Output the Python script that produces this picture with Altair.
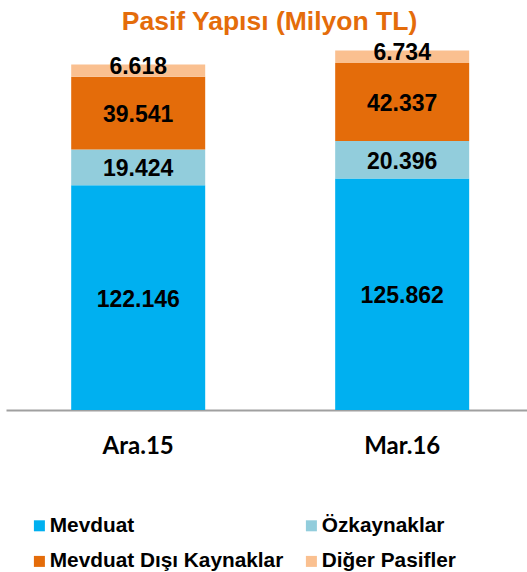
import altair as alt
import pandas as pd

categories = ["Ara.15", "Mar.16"]
series = ["Mevduat", "Özkaynaklar", "Mevduat Dışı Kaynaklar", "Diğer Pasifler"]
mevduat = [122146, 125862]
ozkaynaklar = [19424, 20396]
mevduat_disi = [39541, 42337]
diger = [6618, 6734]
colors = ["#00B0F0", "#92CDDC", "#E46C0A", "#FAC090"]

rows = []
for i, cat in enumerate(categories):
    start = 0
    for k, (s, vals) in enumerate(zip(series, [mevduat, ozkaynaklar, mevduat_disi, diger])):
        v = vals[i]
        end = start + v
        pos = end if s == "Diğer Pasifler" else (start + end) / 2
        rows.append(dict(cat=cat, series=s, start=start, end=end, pos=pos,
                         label=f"{v:,}".replace(",", "."), order=k))
        start = end
df = pd.DataFrame(rows)

yscale = alt.Scale(domain=[0, 200000], nice=False, zero=True)
xenc = alt.X(
    "cat:N", sort=categories,
    scale=alt.Scale(paddingInner=0.4924, paddingOuter=0.233, align=0.53),
    axis=alt.Axis(title=None, labelAngle=0, domainColor="#A0A0A0", domainWidth=2,
                  ticks=False, tickSize=0, labelPadding=24, labelFont="Lato",
                  labelFontSize=24, labelFontWeight="bold", labelColor="black", grid=False),
)

bars = alt.Chart(df).mark_bar().encode(
    x=xenc,
    y=alt.Y("start:Q", scale=yscale, axis=None),
    y2="end:Q",
    color=alt.Color(
        "series:N",
        scale=alt.Scale(domain=series, range=colors),
        legend=alt.Legend(
            title=None, orient="none", legendX=23, legendY=473, columns=2,
            symbolType="square", symbolSize=121, symbolStrokeWidth=0,
            labelFont="Liberation Sans", labelFontSize=20.8, labelFontWeight="bold",
            labelColor="black", labelOffset=0, labelLimit=400,
            rowPadding=14, columnPadding=17, direction="horizontal",
        ),
    ),
)

text = alt.Chart(df).mark_text(
    font="Liberation Sans", fontSize=23, fontWeight="bold", color="black",
    baseline="middle", dy=2
).encode(
    x=alt.X("cat:N", sort=categories),
    y=alt.Y("pos:Q", scale=yscale),
    text="label:N",
)

chart = alt.layer(bars, text).properties(
    width=521, height=368,
    autosize=alt.AutoSizeParams(type="none"),
    padding={"left": 6, "right": 0, "top": 42, "bottom": 162},
    title=alt.TitleParams("Pasif Yapısı (Milyon TL)", fontSize=26.5, font="Liberation Sans",
                          fontWeight="bold", color="#E46C0A", anchor="middle", dx=3, dy=-2),
).configure_view(stroke=None)

chart.save("out.html", embed_options={"renderer": "svg", "actions": False})
